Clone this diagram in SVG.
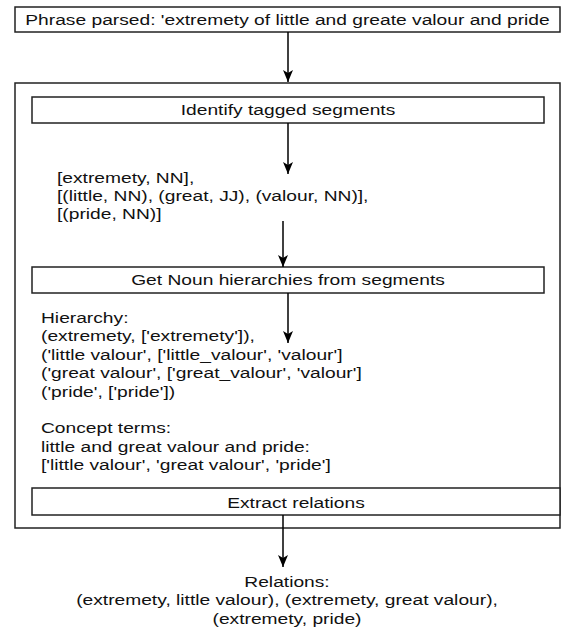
<svg xmlns="http://www.w3.org/2000/svg" width="561" height="629" viewBox="0 0 561 629">
<defs>
<marker id="ah" markerWidth="12" markerHeight="10" refX="12" refY="5" orient="auto" markerUnits="userSpaceOnUse" viewBox="0 0 12 10">
<path d="M0,0 L12,5 L0,10 L3,5 Z" fill="#000"/>
</marker>
<style>
text{font-family:"Liberation Sans",Arial,sans-serif;font-size:15.5px;fill:#111}
.c{text-anchor:middle}
.box{fill:#fff;stroke:#222;stroke-width:1.5}
.ln{stroke:#000;stroke-width:1.5;fill:none;marker-end:url(#ah)}
</style>
</defs>
<rect width="561" height="629" fill="#fff"/>
<g id="phrase">
<rect class="box" x="15" y="7" width="545" height="25"/>
<text class="c" transform="translate(287.5,25) scale(1.24,1)">Phrase parsed: 'extremety of little and greate valour and pride</text>
</g>
<g id="process">
<rect class="box" x="15" y="83" width="545" height="445"/>
</g>
<g id="identify">
<rect class="box" x="32" y="97" width="512" height="26"/>
<text class="c" transform="translate(288,115) scale(1.24,1)">Identify tagged segments</text>
</g>
<g id="segments">
<text transform="translate(57,183) scale(1.24,1)">[extremety, NN],</text>
<text transform="translate(57,201) scale(1.24,1)">[(little, NN), (great, JJ), (valour, NN)],</text>
<text transform="translate(57,219) scale(1.24,1)">[(pride, NN)]</text>
</g>
<g id="nounhier">
<rect class="box" x="32" y="267" width="512" height="26"/>
<text class="c" transform="translate(288,285) scale(1.24,1)">Get Noun hierarchies from segments</text>
</g>
<g id="hierarchy">
<text transform="translate(41,323) scale(1.24,1)">Hierarchy:</text>
<text transform="translate(41,341) scale(1.24,1)">(extremety, ['extremety']),</text>
<text transform="translate(41,360) scale(1.24,1)">('little valour', ['little_valour', 'valour']</text>
<text transform="translate(41,378) scale(1.24,1)">('great valour', ['great_valour', 'valour']</text>
<text transform="translate(41,397) scale(1.24,1)">('pride', ['pride'])</text>
<text transform="translate(41,433) scale(1.24,1)">Concept terms:</text>
<text transform="translate(41,452) scale(1.24,1)">little and great valour and pride:</text>
<text transform="translate(41,470) scale(1.24,1)">['little valour', 'great valour', 'pride']</text>
</g>
<g id="extract">
<rect class="box" x="32" y="488" width="528" height="27"/>
<text class="c" transform="translate(296,508) scale(1.24,1)">Extract relations</text>
</g>
<g id="relations">
<text class="c" transform="translate(287,587) scale(1.24,1)">Relations:</text>
<text class="c" transform="translate(287,605) scale(1.24,1)">(extremety, little valour), (extremety, great valour),</text>
<text class="c" transform="translate(287,624) scale(1.24,1)">(extremety, pride)</text>
</g>
<g id="connectors">
<line class="ln" x1="288" y1="32" x2="288" y2="82"/>
<line class="ln" x1="288" y1="123" x2="288" y2="174"/>
<line class="ln" x1="283" y1="221" x2="283" y2="267"/>
<line class="ln" x1="288" y1="293" x2="288" y2="343"/>
<line class="ln" x1="283" y1="515" x2="283" y2="567"/>
</g>
</svg>
